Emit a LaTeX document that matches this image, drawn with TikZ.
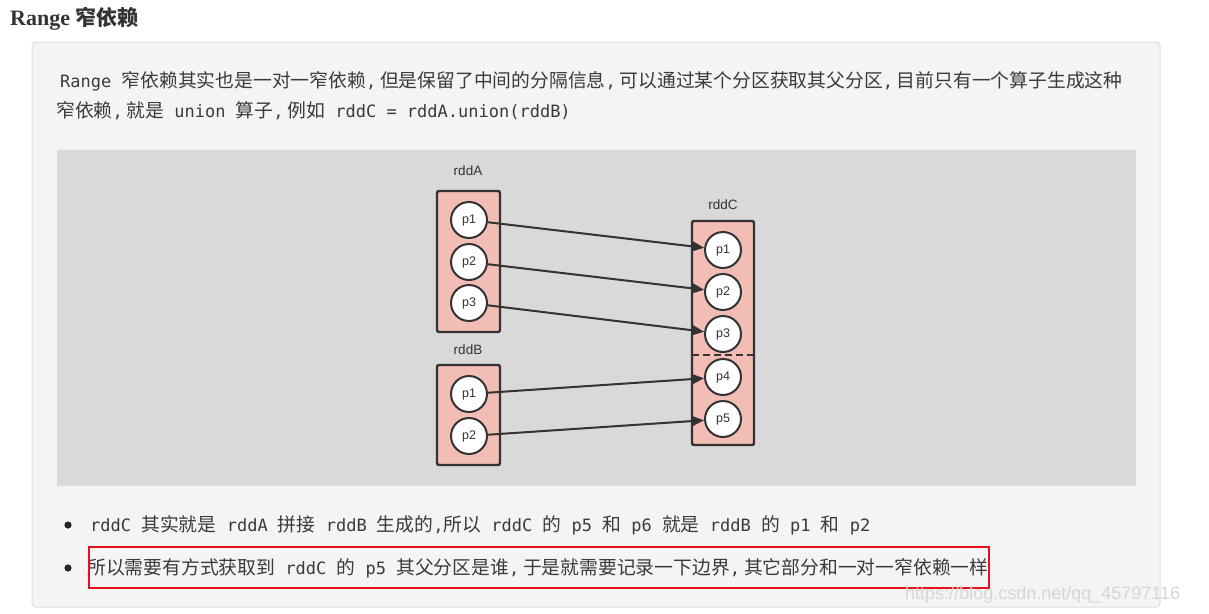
\documentclass[tikz,border=0pt]{standalone}
\usepackage{fontspec}
\usetikzlibrary{arrows.meta}
\newfontfamily\monof{DejaVu Sans Mono}
\newfontfamily\zhf{Noto Sans CJK SC}
\newfontfamily\titlef{Liberation Serif}
\newfontfamily\diagf{Liberation Sans}
\newcommand\zh[1]{{\zhf\fontsize{18.8}{20}\selectfont #1}}
\newcommand\cm{,\hspace{3.8pt}}
\definecolor{panelbg}{HTML}{F4F4F4}
\definecolor{panelline}{HTML}{DEDEDE}
\definecolor{diagbg}{HTML}{D9D9D9}
\definecolor{boxfill}{HTML}{F1BDB5}
\definecolor{ink}{HTML}{333333}
\definecolor{txt}{HTML}{3A3A3A}
\definecolor{redbox}{HTML}{E3121B}
\tikzset{
  txtline/.style={anchor=west, inner sep=0pt, text=txt, font=\monof\fontsize{17}{20}\selectfont},
  rddbox/.style={draw=ink, line width=2.4pt, fill=boxfill, rounded corners=2pt},
  part/.style={circle, draw=ink, line width=2pt, fill=white, minimum size=36pt, inner sep=0pt, font=\diagf\fontsize{12.5}{14}\selectfont, text=ink},
  rddlabel/.style={font=\diagf\fontsize{13.5}{16}\selectfont, text=ink, inner sep=0pt},
  dep/.style={draw=ink, line width=2pt, -{Triangle[length=12pt,width=10pt]}},
}
\begin{document}
\begin{tikzpicture}[x=1pt,y=-1pt]
\useasboundingbox (0,0) rectangle (1209,613);
\fill[white] (0,0) rectangle (1209,613);
% title
\node[anchor=west, inner sep=0pt, text=ink] (title) at (10,19)
  {{\titlef\bfseries\fontsize{22}{24}\selectfont Range }{\zhf\bfseries\fontsize{21}{24}\selectfont 窄依赖}};
% panel
\draw[panelline, fill=panelbg, rounded corners=4pt, line width=1pt] (32,42) rectangle (1160,607);
% paragraph
\node[txtline] (l1) at (60,81) {Range \zh{窄依赖其实也是一对一窄依赖}\cm\zh{但是保留了中间的分隔信息}\cm\zh{可以通过某个分区获取其父分区}\cm\zh{目前只有一个算子生成这种}};
\node[txtline] (l2) at (56,111) {\zh{窄依赖}\cm\zh{就是} union \zh{算子}\cm\zh{例如} rddC = rddA.union(rddB)};
% diagram background
\fill[diagbg] (57,150) rectangle (1136,486);
% boxes
\draw[rddbox] (437,191) rectangle (500,332);
\draw[rddbox] (437,365) rectangle (500,465);
\draw[rddbox] (692,221) rectangle (754,445);
\draw[ink, line width=2pt, dashed, dash pattern=on 7pt off 4pt] (692,355) -- (754,355);
\node[rddlabel] (la) at (468,171) {rddA};
\node[rddlabel] (lb) at (468,350) {rddB};
\node[rddlabel] (lc) at (723,205) {rddC};
% partitions
\node[part] (A1) at (469,220) {p1};
\node[part] (A2) at (469,262) {p2};
\node[part] (A3) at (469,303) {p3};
\node[part] (B1) at (469,394) {p1};
\node[part] (B2) at (469,436) {p2};
\node[part] (C1) at (723,250) {p1};
\node[part] (C2) at (723,292) {p2};
\node[part] (C3) at (723,334) {p3};
\node[part] (C4) at (723,377) {p4};
\node[part] (C5) at (723,419) {p5};
% dependencies
\draw[dep] (A1) -- (C1);
\draw[dep] (A2) -- (C2);
\draw[dep] (A3) -- (C3);
\draw[dep] (B1) -- (C4);
\draw[dep] (B2) -- (C5);
% bullets
\fill[black!85] (68,525) circle (3.6pt);
\fill[black!85] (68,568) circle (3.6pt);
\node[txtline] (b1) at (90,525) {rddC \zh{其实就是} rddA \zh{拼接} rddB \zh{生成的},\zh{所以} rddC \zh{的} p5 \zh{和} p6 \zh{就是} rddB \zh{的} p1 \zh{和} p2};
\node[txtline] (b2) at (87,568) {\zh{所以需要有方式获取到} rddC \zh{的} p5 \zh{其父分区是谁}\cm\zh{于是就需要记录一下边界}\cm\zh{其它部分和一对一窄依赖一样}};
\draw[redbox, line width=2.6pt] (89,547) rectangle (989,588);
% watermark
\node[anchor=west, inner sep=0pt, text=black!16, font=\diagf\fontsize{18}{20}\selectfont] (wm) at (905,595) {https://blog.csdn.net/qq\_45797116};
\end{tikzpicture}
\end{document}
